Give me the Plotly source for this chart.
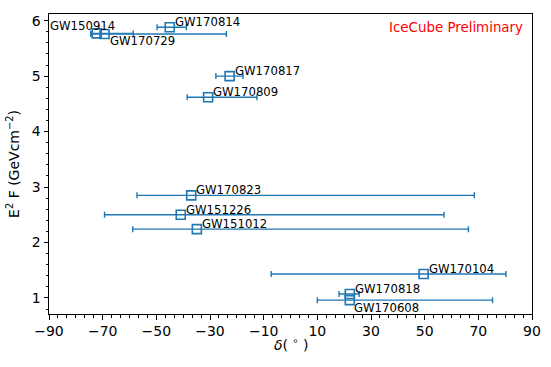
import plotly.graph_objects as go

names = ["GW150914", "GW170729", "GW170814", "GW170817", "GW170809", "GW170823",
         "GW151226", "GW151012", "GW170104", "GW170818", "GW170608"]
dec = [-72.2, -69.3, -45.0, -22.7, -30.7, -37.0, -40.9, -34.9, 49.6, 22.1, 22.1]
flux = [5.77, 5.76, 5.88, 5.00, 4.62, 2.85, 2.50, 2.24, 1.43, 1.07, 0.96]
dec_low = [-74.4, -74.4, -49.7, -27.8, -38.5, -57.2, -69.3, -58.8, -7.2, 18.1, 10.0]
dec_high = [-58.6, -23.9, -38.8, -17.7, -12.5, 68.5, 57.2, 66.3, 80.3, 25.6, 75.3]

err_plus = [h - d for h, d in zip(dec_high, dec)]
err_minus = [d - l for d, l in zip(dec, dec_low)]

C0 = "#1f77b4"
FONT = "DejaVu Sans"

fig = go.Figure()
fig.add_trace(go.Scatter(
    x=dec, y=flux, mode="markers",
    marker=dict(symbol="square-open", size=9, color=C0, line=dict(width=1.6, color=C0)),
    error_x=dict(type="data", symmetric=False, array=err_plus, arrayminus=err_minus,
                 color=C0, thickness=1.4, width=3),
    showlegend=False, hoverinfo="skip",
))

# label placement styles: (xanchor, xshift, yshift)
label_style = {
    "GW150914": ("right", 20, -1.5),
    "GW170729": ("left", 3, -16.5),
    "GW170608": ("left", 2, -16.5),
}
for n, x, y in zip(names, dec, flux):
    xa, xs, ys = label_style.get(n, ("left", 3, -4))
    fig.add_annotation(x=x, y=y, text=n, showarrow=False, xanchor=xa, yanchor="bottom",
                       xshift=xs, yshift=ys, font=dict(family=FONT, size=11.7, color="black"))

fig.add_annotation(x=1, y=1, xref="paper", yref="paper", text="IceCube Preliminary",
                   showarrow=False, xanchor="right", yanchor="top", xshift=-7, yshift=-4,
                   font=dict(family=FONT, size=13.4, color="red"))

# x-axis title as annotation for precise placement
fig.add_annotation(x=0.5, y=0, xref="paper", yref="paper", text="<i>δ</i>( <sup>∘</sup> )",
                   showarrow=False, xanchor="center", yanchor="middle", xshift=1, yshift=-30,
                   font=dict(family=FONT, size=14, color="black"))

axis_common = dict(showline=True, linecolor="black", linewidth=1, mirror=True,
                   ticks="outside", ticklen=4.5, tickwidth=1, tickcolor="black",
                   showgrid=False, zeroline=False,
                   tickfont=dict(family=FONT, size=14, color="black"))

fig.update_xaxes(range=[-90, 90], tick0=-90, dtick=20,
                 minor=dict(ticks="outside", ticklen=2.5, tickwidth=1, tickcolor="black",
                            tick0=-90, dtick=10/3),
                 **axis_common)
fig.update_yaxes(range=[0.71, 6.12], tick0=0, dtick=1,
                 minor=dict(ticks="outside", ticklen=2.5, tickwidth=1, tickcolor="black",
                            tick0=0, dtick=0.2),
                 title=dict(text="E<sup>2</sup> F (GeVcm<sup>−2</sup>)", standoff=8,
                            font=dict(family=FONT, size=14, color="black")),
                 **axis_common)

fig.update_layout(width=551, height=367, margin=dict(l=49, r=18.5, t=14.3, b=52.7, autoexpand=False),
                  plot_bgcolor="white", paper_bgcolor="white",
                  font=dict(family=FONT, color="black"))

fig.write_html("out.html", config={"displayModeBar": False},
               post_script="document.body.style.margin='0';document.body.style.overflow='hidden';")
